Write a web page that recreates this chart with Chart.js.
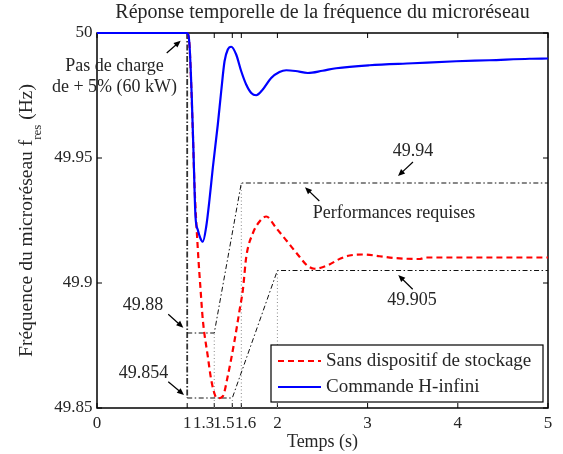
<!DOCTYPE html>
<html>
<head>
<meta charset="utf-8">
<title>Réponse temporelle de la fréquence du microréseau</title>
<script src="https://cdn.jsdelivr.net/npm/chart.js@4.4.1/dist/chart.umd.min.js"></script>
<style>
	html, body { margin:0; padding:0; background:#fff; }
	#wrap { width:563px; height:454px; }
</style>
</head>
<body>
<div id="wrap"><canvas id="myChart" width="563" height="454"></canvas></div>
<script>
// --- data ---
var xTicks = [0, 1, 1.3, 1.5, 1.6, 2, 3, 4, 5];
var yTicks = [49.85, 49.9, 49.95, 50];

// Commande H-infini (blue)
var tBlue = [0, 1, 1.025, 1.05, 1.07, 1.092, 1.118, 1.145, 1.173, 1.211, 1.247, 1.284, 1.339, 1.377, 1.414, 1.45, 1.488, 1.543, 1.599, 1.654, 1.71, 1.765, 1.838, 1.931, 2.023, 2.098, 2.2, 2.337, 2.5, 2.652, 3.021, 3.501, 3.982, 4.351, 4.795, 5];
var fBlue = [50, 50, 49.9954, 49.975, 49.952, 49.9266, 49.9212, 49.918, 49.9165, 49.9226, 49.9333, 49.9461, 49.9633, 49.9767, 49.9887, 49.9934, 49.9945, 49.9914, 49.9847, 49.9794, 49.976, 49.9751, 49.9774, 49.982, 49.9844, 49.9851, 49.9848, 49.984, 49.9849, 49.9859, 49.9871, 49.9879, 49.9887, 49.9891, 49.9897, 49.9898];

// Sans dispositif de stockage (red)
var tRed = [0, 1, 1.025, 1.06, 1.08, 1.118, 1.15, 1.173, 1.229, 1.266, 1.314, 1.34, 1.395, 1.447, 1.525, 1.58, 1.617, 1.655, 1.729, 1.802, 1.876, 1.986, 2.1, 2.245, 2.33, 2.411, 2.5, 2.577, 2.7, 2.8, 2.966, 3.132, 3.298, 3.575, 3.65, 5];
var fRed = [50, 50, 49.9954, 49.963, 49.94, 49.9134, 49.8964, 49.8853, 49.8705, 49.8613, 49.8546, 49.8539, 49.8547, 49.8623, 49.877, 49.889, 49.8972, 49.9105, 49.92, 49.9246, 49.9266, 49.922, 49.917, 49.9105, 49.907, 49.9057, 49.9063, 49.9074, 49.9098, 49.911, 49.9114, 49.9107, 49.91, 49.9096, 49.9102, 49.9102];

// Performances requises (gabarit)
var tUpper = [1, 1.3, 1.6, 5];
var fUpper = [49.88, 49.88, 49.94, 49.94];
var tLower = [1, 1.5, 2, 5];
var fLower = [49.854, 49.854, 49.905, 49.905];
var tStep = [1, 1];
var fStep = [50, 49.854];
var tMarks = [1.3, 1.5, 1.6, 2];
var fMarks = [49.88, 49.854, 49.94, 49.905];

var chartTitle = 'Réponse temporelle de la fréquence du microréseau';
var xTitle = 'Temps (s)';
var yTitle = 'Fréquence du microréseau f', ySub = 'res', yUnit = ' (Hz)';
var seriesNames = ['Sans dispositif de stockage', 'Commande H-infini'];

// annotations: text centre + arrow (tail -> head), in data units
var notes = [
	{ text: ['Pas de charge', 'de + 5% (60 kW)'], t: 0.194, f: 49.9826, from: [0.773, 49.992], to: [0.928, 49.9969] },
	{ text: ['49.94'], t: 3.503, f: 49.9525, from: [3.503, 49.9484], to: [3.337, 49.9428] },
	{ text: ['Performances requises'], t: 3.293, f: 49.928, from: [2.465, 49.9328], to: [2.306, 49.9383] },
	{ text: ['49.905'], t: 3.492, f: 49.8932, from: [3.5, 49.8975], to: [3.34, 49.9032] },
	{ text: ['49.88'], t: 0.51, f: 49.8909, from: [0.79, 49.8875], to: [0.957, 49.8821] },
	{ text: ['49.854'], t: 0.516, f: 49.864, from: [0.79, 49.8605], to: [0.965, 49.8552] }
];

// crowded x labels get nudged with spaces (like the matlab export)
var xTickPad = { '1.3': [0, 5], '1.5': [0, 4], '1.6': [2, 0] };

var FONT = '"Liberation Serif", "Times New Roman", serif';
var TXT = '#262626';

!(function(){
	'use strict';

	function pts(t, f){
		return t.map(function(v, i){ return { x: v, y: f[i] }; });
	}

	var markData = [];
	tMarks.forEach(function(t, i){
		markData.push({ x: t, y: yTicks[0] }, { x: t, y: fMarks[i] }, { x: t, y: null });
	});

	var frame = {
		id: 'frame',
		beforeDatasetsDraw: function(chart){
			var ctx = chart.ctx, a = chart.chartArea, sx = chart.scales.x, sy = chart.scales.y;
			ctx.save();
			ctx.strokeStyle = '#000';
			ctx.lineWidth = 1.5;
			ctx.strokeRect(a.left, a.top, a.right - a.left, a.bottom - a.top);
			ctx.lineWidth = 1;
			ctx.beginPath();
			xTicks.forEach(function(v){
				var px = sx.getPixelForValue(v);
				ctx.moveTo(px, a.bottom); ctx.lineTo(px, a.bottom - 5);
				ctx.moveTo(px, a.top); ctx.lineTo(px, a.top + 5);
			});
			yTicks.forEach(function(v){
				var py = sy.getPixelForValue(v);
				ctx.moveTo(a.left, py); ctx.lineTo(a.left + 5, py);
				ctx.moveTo(a.right, py); ctx.lineTo(a.right - 5, py);
			});
			ctx.stroke();
			ctx.restore();
		}
	};

	function arrow(ctx, x1, y1, x2, y2){
		var ang = Math.atan2(y2 - y1, x2 - x1), L = 7, W = 3;
		ctx.beginPath();
		ctx.moveTo(x1, y1);
		ctx.lineTo(x2 - L * 0.6 * Math.cos(ang), y2 - L * 0.6 * Math.sin(ang));
		ctx.stroke();
		ctx.beginPath();
		ctx.moveTo(x2, y2);
		ctx.lineTo(x2 - L * Math.cos(ang) + W * Math.sin(ang), y2 - L * Math.sin(ang) - W * Math.cos(ang));
		ctx.lineTo(x2 - L * Math.cos(ang) - W * Math.sin(ang), y2 - L * Math.sin(ang) + W * Math.cos(ang));
		ctx.closePath();
		ctx.fill();
	}

	var extras = {
		id: 'extras',
		afterDraw: function(chart){
			var ctx = chart.ctx, a = chart.chartArea, sx = chart.scales.x, sy = chart.scales.y;
			ctx.save();

			// annotations
			ctx.font = '18px ' + FONT;
			ctx.textAlign = 'center';
			ctx.textBaseline = 'middle';
			ctx.strokeStyle = '#000';
			ctx.fillStyle = '#000';
			ctx.lineWidth = 1.2;
			notes.forEach(function(n){
				var cx = sx.getPixelForValue(n.t), cy = sy.getPixelForValue(n.f);
				var lh = 21, y0 = cy - (n.text.length - 1) * lh / 2;
				ctx.fillStyle = TXT;
				n.text.forEach(function(s, i){ ctx.fillText(s, cx, y0 + i * lh); });
				ctx.fillStyle = '#000';
				arrow(ctx, sx.getPixelForValue(n.from[0]), sy.getPixelForValue(n.from[1]),
					sx.getPixelForValue(n.to[0]), sy.getPixelForValue(n.to[1]));
			});

			// legend box (inside, bottom right)
			var ds = chart.data.datasets;
			var bw = 272, bh = 57, bx = a.right - 5 - bw, by = a.bottom - 6 - bh;
			ctx.fillStyle = '#fff';
			ctx.fillRect(bx, by, bw, bh);
			ctx.strokeStyle = '#000';
			ctx.lineWidth = 1.2;
			ctx.strokeRect(bx, by, bw, bh);
			ctx.font = '19px ' + FONT;
			ctx.textAlign = 'left';
			[0, 1].forEach(function(i){
				var ly = by + 16 + i * 26;
				ctx.strokeStyle = ds[i].borderColor;
				ctx.lineWidth = ds[i].borderWidth;
				ctx.setLineDash(ds[i].borderDash || []);
				ctx.beginPath();
				ctx.moveTo(bx + 7, ly); ctx.lineTo(bx + 50, ly);
				ctx.stroke();
				ctx.setLineDash([]);
				ctx.fillStyle = TXT;
				ctx.fillText(seriesNames[i], bx + 55, ly);
			});

			// y axis title with subscript
			ctx.translate(32, (a.top + a.bottom) / 2);
			ctx.rotate(-Math.PI / 2);
			ctx.textBaseline = 'alphabetic';
			ctx.fillStyle = TXT;
			ctx.font = '19.5px ' + FONT;
			var w1 = ctx.measureText(yTitle).width, w3 = ctx.measureText(yUnit).width;
			ctx.font = '13px ' + FONT;
			var w2 = ctx.measureText(ySub).width;
			var x0 = -(w1 + w2 + w3) / 2;
			ctx.font = '19.5px ' + FONT;
			ctx.fillText(yTitle, x0, 0);
			ctx.fillText(yUnit, x0 + w1 + w2, 0);
			ctx.font = '13px ' + FONT;
			ctx.fillText(ySub, x0 + w1, 9);

			ctx.restore();
		}
	};

	var ctx = document.getElementById('myChart').getContext('2d');
	var myChart = new Chart(ctx, {
		type: 'line',
		data: {
			datasets: [{
				label: seriesNames[0],
				data: pts(tRed, fRed),
				borderColor: '#ff0000',
				borderWidth: 2.2,
				borderDash: [6, 4],
				pointRadius: 0,
				cubicInterpolationMode: 'monotone',
				clip: false,
				order: 1
			}, {
				label: seriesNames[1],
				data: pts(tBlue, fBlue),
				borderColor: '#0000ff',
				borderWidth: 2.2,
				pointRadius: 0,
				cubicInterpolationMode: 'monotone',
				clip: false,
				order: 0
			}, {
				label: 'upper',
				data: pts(tUpper, fUpper),
				borderColor: '#111',
				borderWidth: 1,
				borderDash: [5, 2.5, 1.5, 2.5],
				pointRadius: 0,
				order: 2
			}, {
				label: 'lower',
				data: pts(tLower, fLower),
				borderColor: '#111',
				borderWidth: 1,
				borderDash: [5, 2.5, 1.5, 2.5],
				pointRadius: 0,
				order: 2
			}, {
				label: 'step',
				data: pts(tStep, fStep),
				borderColor: '#333',
				borderWidth: 1.8,
				borderDash: [6, 2, 1.5, 2],
				pointRadius: 0,
				order: 2
			}, {
				label: 'marks',
				data: markData,
				borderColor: '#888',
				borderWidth: 1,
				borderDash: [1, 2.5],
				pointRadius: 0,
				spanGaps: false,
				order: 3
			}]
		},
		options: {
			responsive: false,
			animation: false,
			events: [],
			layout: { padding: { top: 0, right: 15, bottom: 0, left: 0 } },
			plugins: {
				legend: { display: false },
				tooltip: { enabled: false },
				title: {
					display: true,
					text: chartTitle,
					fullSize: false,
					color: TXT,
					font: { family: FONT, size: 20, weight: 'normal', lineHeight: 1.2 },
					padding: { top: 1, bottom: 8 }
				}
			},
			scales: {
				x: {
					type: 'linear',
					min: 0,
					max: 5,
					grid: { display: false, drawTicks: false },
					border: { display: false },
					afterBuildTicks: function(scale){
						scale.ticks = xTicks.map(function(v){ return { value: v }; });
					},
					afterFit: function(scale){ scale.height = 46; },
					ticks: {
						autoSkip: false,
						maxRotation: 0,
						minRotation: 0,
						padding: 5,
						color: TXT,
						font: { family: FONT, size: 17 },
						callback: function(v){
							var s = String(v), p = xTickPad[s];
							if (p) s = ' '.repeat(p[0]) + s + ' '.repeat(p[1]);
							return s;
						}
					},
					title: {
						display: true,
						text: xTitle,
						color: TXT,
						font: { family: FONT, size: 18, lineHeight: 1.2 },
						padding: { top: 0, bottom: 1 }
					}
				},
				y: {
					min: 49.85,
					max: 50,
					grid: { display: false, drawTicks: false },
					border: { display: false },
					afterBuildTicks: function(scale){
						scale.ticks = yTicks.map(function(v){ return { value: v }; });
					},
					afterFit: function(scale){ scale.width = 97; },
					ticks: {
						padding: 4.5,
						color: TXT,
						font: { family: FONT, size: 17 },
						callback: function(v){ return String(v); }
					}
				}
			}
		},
		plugins: [frame, extras]
	});
})();
</script>
</body>
</html>
